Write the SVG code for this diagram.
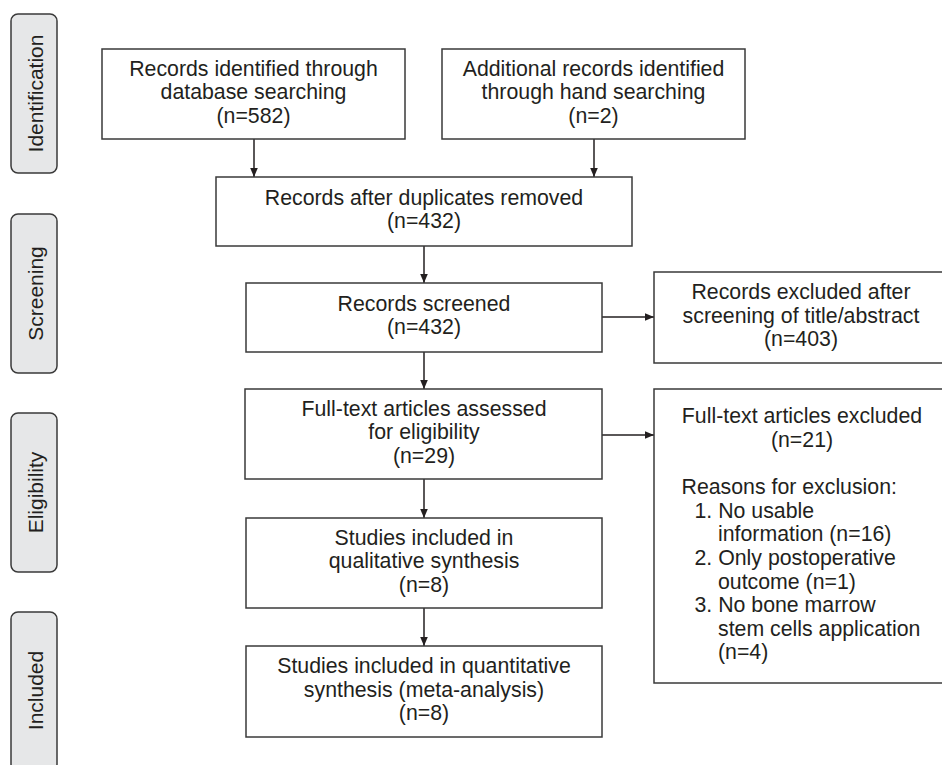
<svg xmlns="http://www.w3.org/2000/svg" width="942" height="765" viewBox="0 0 942 765">
<style>
  .box{fill:#ffffff;stroke:#3a3a3a;stroke-width:1.5}
  .side{fill:#e6e7e8;stroke:#3a3a3a;stroke-width:1.5}
  text{font-family:"Liberation Sans",Arial,Helvetica,sans-serif;font-size:21.3px;fill:#231f20}
  .c{text-anchor:middle}
  .lbl{font-size:21px;text-anchor:middle}
  .conn{stroke:#231f20;stroke-width:1.5;fill:none;marker-end:url(#ah)}
</style>
<defs>
  <marker id="ah" markerUnits="userSpaceOnUse" markerWidth="11" markerHeight="9" refX="9.5" refY="4" orient="auto">
    <path d="M0,0 L9.5,4 L0,8 z" fill="#231f20"/>
  </marker>
</defs>
<rect x="0" y="0" width="942" height="765" fill="#ffffff"/>

<g id="stage-identification">
  <rect class="side" x="11" y="14" width="46" height="159" rx="7"/>
  <text class="lbl" transform="translate(42.5,93.5) rotate(-90)">Identification</text>
</g>
<g id="stage-screening">
  <rect class="side" x="11" y="214" width="46" height="159" rx="7"/>
  <text class="lbl" transform="translate(42.5,293.5) rotate(-90)">Screening</text>
</g>
<g id="stage-eligibility">
  <rect class="side" x="11" y="413" width="46" height="159" rx="7"/>
  <text class="lbl" transform="translate(42.5,492.5) rotate(-90)">Eligibility</text>
</g>
<g id="stage-included">
  <rect class="side" x="11" y="612" width="46" height="159" rx="7"/>
  <text class="lbl" transform="translate(42.5,690.5) rotate(-90)">Included</text>
</g>

<g id="connectors">
  <line class="conn" x1="254" y1="139" x2="254" y2="177"/>
  <line class="conn" x1="594" y1="139" x2="594" y2="177"/>
  <line class="conn" x1="424" y1="246" x2="424" y2="283"/>
  <line class="conn" x1="424" y1="352" x2="424" y2="389"/>
  <line class="conn" x1="424" y1="479" x2="424" y2="518"/>
  <line class="conn" x1="424" y1="608" x2="424" y2="646"/>
  <line class="conn" x1="602" y1="317" x2="654" y2="317"/>
  <line class="conn" x1="602" y1="435" x2="654" y2="435"/>
</g>

<g id="node-database">
  <rect class="box" x="102" y="49" width="303" height="90"/>
  <text class="c" x="253.5" y="75.7">Records identified through</text>
  <text class="c" x="253.5" y="99.3">database searching</text>
  <text class="c" x="253.5" y="122.9">(n=582)</text>
</g>
<g id="node-hand">
  <rect class="box" x="442" y="49" width="303" height="90"/>
  <text class="c" x="593.5" y="75.7">Additional records identified</text>
  <text class="c" x="593.5" y="99.3">through hand searching</text>
  <text class="c" x="593.5" y="122.9">(n=2)</text>
</g>
<g id="node-duplicates">
  <rect class="box" x="216" y="177" width="416" height="69"/>
  <text class="c" x="424" y="204.5">Records after duplicates removed</text>
  <text class="c" x="424" y="228.1">(n=432)</text>
</g>
<g id="node-screened">
  <rect class="box" x="246" y="283" width="356" height="69"/>
  <text class="c" x="424" y="310.5">Records screened</text>
  <text class="c" x="424" y="334.1">(n=432)</text>
</g>
<g id="node-excluded-screening">
  <rect class="box" x="654" y="272" width="294" height="91"/>
  <text class="c" x="801" y="299.2">Records excluded after</text>
  <text class="c" x="801" y="322.8">screening of title/abstract</text>
  <text class="c" x="801" y="346.4">(n=403)</text>
</g>
<g id="node-fulltext">
  <rect class="box" x="245" y="389" width="357" height="90"/>
  <text class="c" x="424" y="415.7">Full-text articles assessed</text>
  <text class="c" x="424" y="439.3">for eligibility</text>
  <text class="c" x="424" y="462.9">(n=29)</text>
</g>
<g id="node-excluded-fulltext">
  <rect class="box" x="654" y="389" width="294" height="294"/>
  <text class="c" x="802" y="423.3">Full-text articles excluded</text>
  <text class="c" x="802" y="446.9">(n=21)</text>
  <text x="681.5" y="494.1">Reasons for exclusion:</text>
  <text x="694.5" y="517.7">1. No usable</text>
  <text x="718" y="541.3">information (n=16)</text>
  <text x="694.5" y="564.9">2. Only postoperative</text>
  <text x="718" y="588.5">outcome (n=1)</text>
  <text x="694.5" y="612.1">3. No bone marrow</text>
  <text x="718" y="635.7">stem cells application</text>
  <text x="718" y="659.3">(n=4)</text>
</g>
<g id="node-qualitative">
  <rect class="box" x="246" y="518" width="356" height="90"/>
  <text class="c" x="424" y="544.7">Studies included in</text>
  <text class="c" x="424" y="568.3">qualitative synthesis</text>
  <text class="c" x="424" y="591.9">(n=8)</text>
</g>
<g id="node-quantitative">
  <rect class="box" x="246" y="646" width="356" height="91"/>
  <text class="c" x="424" y="673.2">Studies included in quantitative</text>
  <text class="c" x="424" y="696.8">synthesis (meta-analysis)</text>
  <text class="c" x="424" y="720.4">(n=8)</text>
</g>
</svg>
